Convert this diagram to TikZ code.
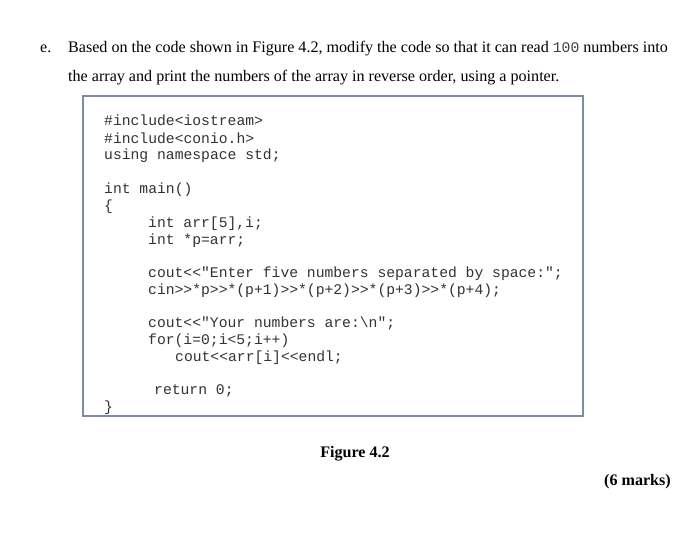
\documentclass[tikz,border=0pt]{standalone}
\usepackage{fontspec}
\setmainfont{Liberation Serif}
\setmonofont{Liberation Mono}
\begin{document}
\begin{tikzpicture}[x=1pt,y=-1pt,
  txt/.style={anchor=base west,inner sep=0pt,font=\fontsize{16.1}{17}\selectfont},
  code/.style={anchor=base west,inner sep=0pt,font=\fontsize{14.7}{17}\ttfamily,text=black!80}]
\useasboundingbox (0,0) rectangle (700,548);
\fill[white] (0,0) rectangle (700,548);
\node[txt] (e) at (40,53) {e.};
\node[txt] (l1) at (68,53) {Based on the code shown in Figure 4.2, modify the code so that it can read {\fontsize{14.7}{17}\ttfamily\color{black!75}100} numbers into};
\node[txt] (l2) at (68,82) {the array and print the numbers of the array in reverse order, using a pointer.};
\draw[color={rgb,255:red,125;green,140;blue,165},line width=1.2pt] (83,96) rectangle (583,416);
\node[code] (c1) at (104,126) {\#include<iostream>};
\node[code] (c2) at (104,143) {\#include<conio.h>};
\node[code] (c3) at (104,160) {using namespace std;};
\node[code] (c4) at (104,193) {int main()};
\node[code] (c5) at (104,210) {\{};
\node[code] (c6) at (148,227) {int arr[5],i;};
\node[code] (c7) at (148,244) {int *p=arr;};
\node[code] (c8) at (148,277) {cout<<"Enter five numbers separated by space:";};
\node[code] (c9) at (148,294) {cin>>*p>>*(p+1)>>*(p+2)>>*(p+3)>>*(p+4);};
\node[code] (c10) at (148,327) {cout<<"Your numbers are:\textbackslash n";};
\node[code] (c11) at (148,344) {for(i=0;i<5;i++)};
\node[code] (c12) at (175,361) {cout<<arr[i]<<endl;};
\node[code] (c13) at (154,394) {return 0;};
\node[code] (c14) at (104,411) {\}};
\node[txt,anchor=base,font=\fontsize{16.1}{17}\selectfont\bfseries] (fig) at (355,457) {Figure 4.2};
\node[txt,anchor=base east,font=\fontsize{16.1}{17}\selectfont\bfseries] (marks) at (671,485) {(6 marks)};
\end{tikzpicture}
\end{document}
